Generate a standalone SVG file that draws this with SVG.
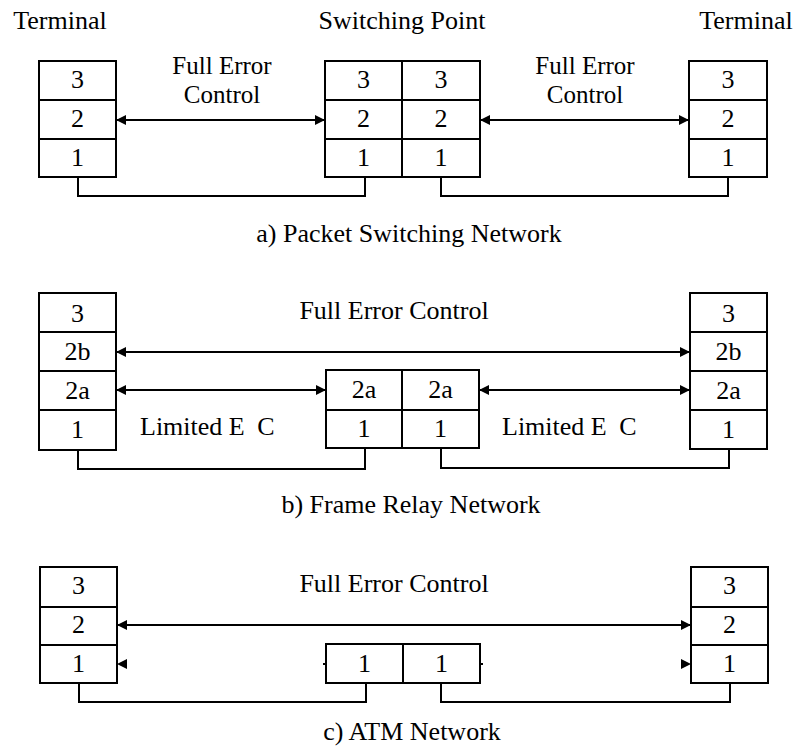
<svg xmlns="http://www.w3.org/2000/svg" width="800" height="755" viewBox="0 0 800 755">
  <defs>
    <marker id="arrow" viewBox="0 0 10 10" refX="10" refY="5" markerWidth="10" markerHeight="10" markerUnits="userSpaceOnUse" orient="auto-start-reverse">
      <path d="M0,0 L10,5 L0,10 z" fill="#000"/>
    </marker>
  </defs>
  <style>
    text { font-family: "Liberation Serif", "DejaVu Serif", serif; font-size: 26px; fill: #000; }
    .c { text-anchor: middle; }
    .two { font-size: 25px; }
    .box { fill: #fff; stroke: #000; stroke-width: 2; }
    .div { stroke: #000; stroke-width: 2; fill: none; }
    .link { stroke: #000; stroke-width: 2; fill: none; }
    .arr { stroke: #000; stroke-width: 2; fill: none; marker-start: url(#arrow); marker-end: url(#arrow); }
    .head { fill: #000; }
  </style>
  <rect width="800" height="755" fill="#fff"/>

  <!-- a) Packet switching network -->
  <g id="a-headings">
    <text class="c" x="60" y="29">Terminal</text>
    <text class="c" x="402" y="29">Switching Point</text>
    <text class="c" x="746" y="29">Terminal</text>
  </g>
  <g id="a-term-left">
    <rect class="box" x="39" y="61" width="77" height="116"/>
    <path class="div" d="M39 100 H116 M39 139 H116"/>
    <text class="c" x="77.5" y="88">3</text>
    <text class="c" x="77.5" y="127">2</text>
    <text class="c" x="77.5" y="166">1</text>
  </g>
  <g id="a-switch">
    <rect class="box" x="325" y="61" width="155" height="116"/>
    <path class="div" d="M325 100 H480 M325 139 H480 M402 61 V177"/>
    <text class="c" x="363.5" y="88">3</text>
    <text class="c" x="363.5" y="127">2</text>
    <text class="c" x="363.5" y="166">1</text>
    <text class="c" x="441" y="88">3</text>
    <text class="c" x="441" y="127">2</text>
    <text class="c" x="441" y="166">1</text>
  </g>
  <g id="a-term-right">
    <rect class="box" x="689" y="61" width="78" height="116"/>
    <path class="div" d="M689 100 H767 M689 139 H767"/>
    <text class="c" x="728" y="88">3</text>
    <text class="c" x="728" y="127">2</text>
    <text class="c" x="728" y="166">1</text>
  </g>
  <g id="a-labels">
    <text class="c two" x="222" y="74">Full Error</text>
    <text class="c two" x="222" y="103">Control</text>
    <text class="c two" x="585" y="74">Full Error</text>
    <text class="c two" x="585" y="103">Control</text>
    <text class="c" x="409" y="242">a) Packet Switching Network</text>
  </g>

  <!-- b) Frame relay network -->
  <g id="b-term-left">
    <rect class="box" x="39" y="293" width="77" height="157"/>
    <path class="div" d="M39 332 H116 M39 371 H116 M39 410 H116"/>
    <text class="c" x="77.5" y="322">3</text>
    <text class="c" x="77.5" y="360">2b</text>
    <text class="c" x="77.5" y="399">2a</text>
    <text class="c" x="77.5" y="438">1</text>
  </g>
  <g id="b-switch">
    <rect class="box" x="326" y="370" width="153" height="78"/>
    <path class="div" d="M326 410 H479 M402 370 V448"/>
    <text class="c" x="364" y="398">2a</text>
    <text class="c" x="364" y="437">1</text>
    <text class="c" x="440.5" y="398">2a</text>
    <text class="c" x="440.5" y="437">1</text>
  </g>
  <g id="b-term-right">
    <rect class="box" x="690" y="293" width="77" height="156"/>
    <path class="div" d="M690 332 H767 M690 371 H767 M690 410 H767"/>
    <text class="c" x="728.5" y="322">3</text>
    <text class="c" x="728.5" y="360">2b</text>
    <text class="c" x="728.5" y="399">2a</text>
    <text class="c" x="728.5" y="438">1</text>
  </g>
  <g id="b-labels">
    <text class="c" x="394" y="319">Full Error Control</text>
    <text x="140" y="435">Limited E<tspan dx="6"> C</tspan></text>
    <text x="502" y="435">Limited E<tspan dx="6"> C</tspan></text>
    <text class="c" x="411" y="513">b) Frame Relay Network</text>
  </g>

  <!-- c) ATM network -->
  <g id="c-term-left">
    <rect class="box" x="40" y="567" width="77" height="116"/>
    <path class="div" d="M40 607 H117 M40 645 H117"/>
    <text class="c" x="78.5" y="594">3</text>
    <text class="c" x="78.5" y="633">2</text>
    <text class="c" x="78.5" y="672">1</text>
  </g>
  <g id="c-switch">
    <rect class="box" x="326" y="644" width="154" height="39"/>
    <path class="div" d="M403 644 V683"/>
    <text class="c" x="364.5" y="672">1</text>
    <text class="c" x="441.5" y="672">1</text>
  </g>
  <g id="c-term-right">
    <rect class="box" x="691" y="567" width="77" height="116"/>
    <path class="div" d="M691 607 H768 M691 645 H768"/>
    <text class="c" x="729.5" y="594">3</text>
    <text class="c" x="729.5" y="633">2</text>
    <text class="c" x="729.5" y="672">1</text>
  </g>
  <g id="c-labels">
    <text class="c" x="394" y="592">Full Error Control</text>
    <text class="c" x="412" y="740">c) ATM Network</text>
  </g>

  <!-- connectors -->
  <g id="connectors">
    <line class="arr" x1="116" y1="120" x2="325" y2="120"/>
    <line class="arr" x1="480" y1="120" x2="689" y2="120"/>
    <path class="link" d="M78 177 V196 H365 V177"/>
    <path class="link" d="M441 177 V196 H728 V177"/>

    <line class="arr" x1="116" y1="352" x2="690" y2="352"/>
    <line class="arr" x1="116" y1="390" x2="326" y2="390"/>
    <line class="arr" x1="479" y1="390" x2="690" y2="390"/>
    <path class="link" d="M78 450 V469 H365 V448"/>
    <path class="link" d="M441 448 V468 H729 V449"/>

    <line class="arr" x1="117" y1="625" x2="691" y2="625"/>
    <path class="head" d="M117 664 L127 659 L127 669 z"/>
    <path class="head" d="M691 664 L681 659 L681 669 z"/>
    <path class="link" d="M323 664 H326 M480 664 H483"/>
    <path class="link" d="M79 683 V702 H366 V683"/>
    <path class="link" d="M441 683 V702 H730 V683"/>
  </g>
</svg>
